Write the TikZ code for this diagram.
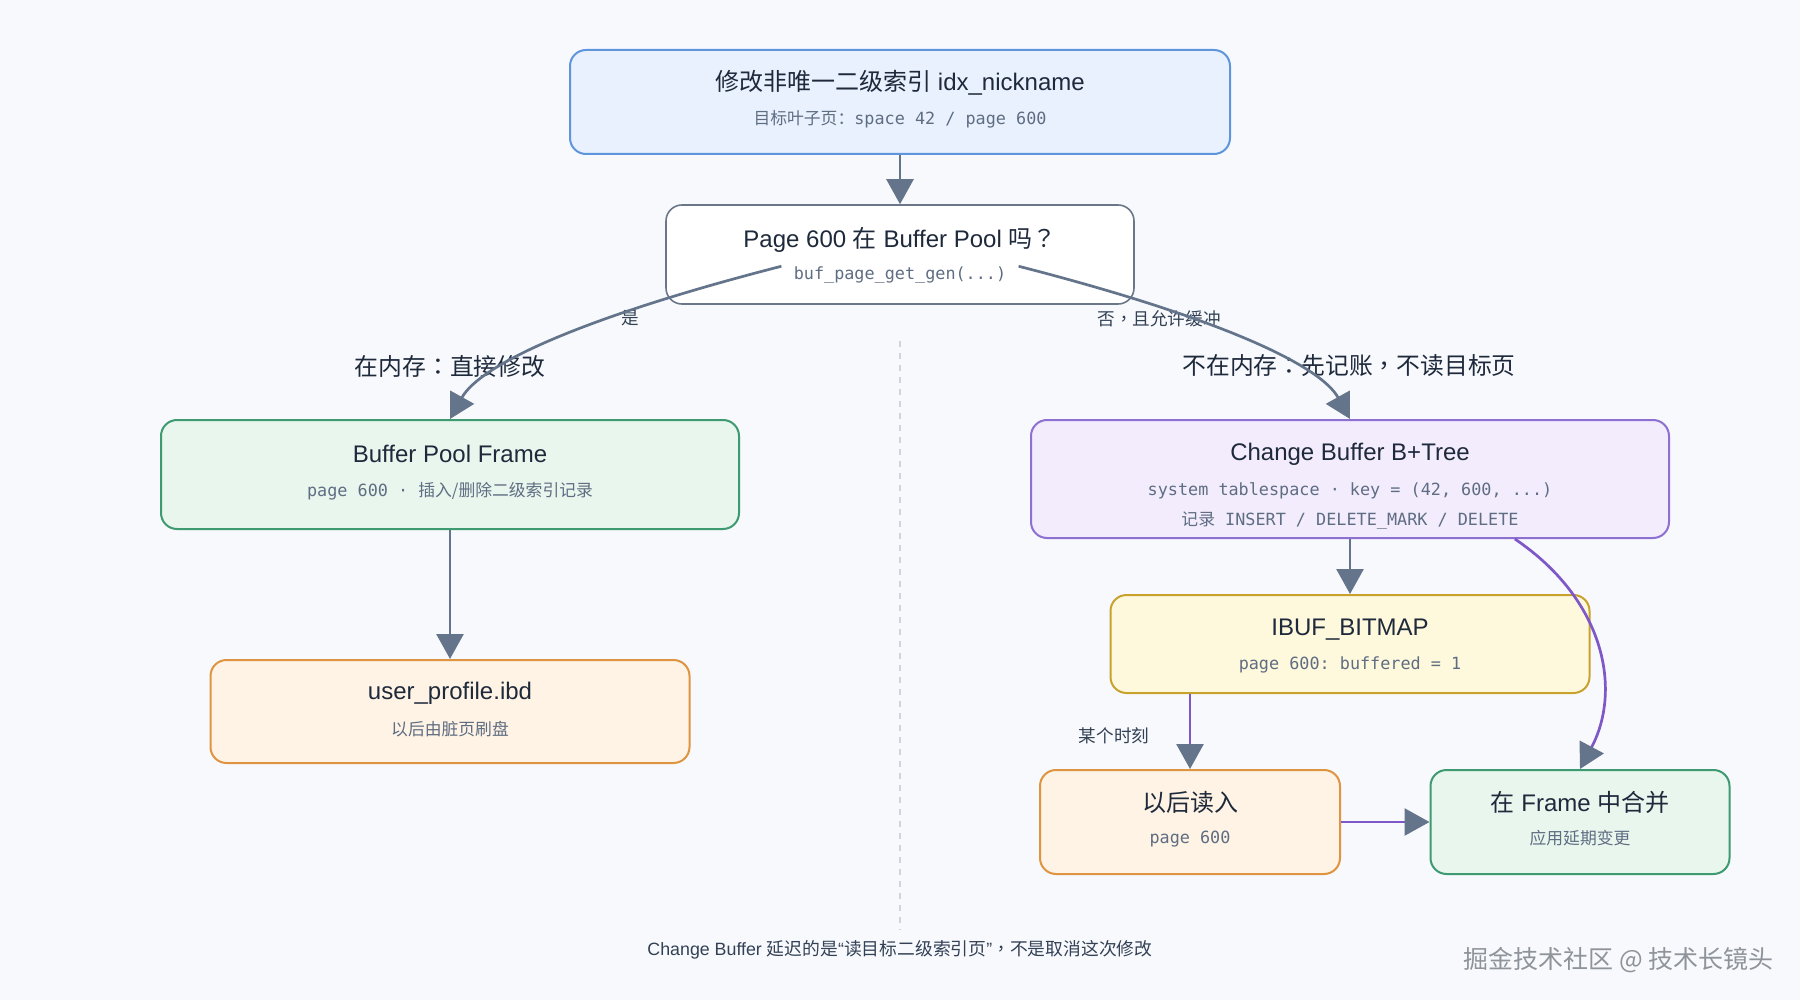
\documentclass[tikz,border=0pt]{standalone}
\usepackage{fontspec}
\setmainfont{Liberation Sans}
\setmonofont{DejaVu Sans Mono}
\newfontfamily\cjk{Noto Sans CJK SC}
\newfontfamily\cjkp{Noto Sans CJK TC}
\usetikzlibrary{arrows.meta,positioning,calc}

\definecolor{bgcol}{HTML}{F7F9FC}
\definecolor{arrowgray}{HTML}{64748B}
\definecolor{titlecol}{HTML}{1E293B}
\definecolor{subcol}{HTML}{5F6D82}
\definecolor{labelcol}{HTML}{334155}
\definecolor{bluefill}{HTML}{E8F1FD}
\definecolor{blueline}{HTML}{5E95DD}
\definecolor{decline}{HTML}{6B7789}
\definecolor{greenfill}{HTML}{E9F6EE}
\definecolor{greenline}{HTML}{3E9A70}
\definecolor{orangefill}{HTML}{FEF3E4}
\definecolor{orangeline}{HTML}{DE9440}
\definecolor{purplefill}{HTML}{F2ECFD}
\definecolor{purpleline}{HTML}{8E6FD2}
\definecolor{purplecol}{HTML}{7E57C9}
\definecolor{yellowfill}{HTML}{FEF8DC}
\definecolor{yellowline}{HTML}{C9A22E}
\definecolor{divcol}{HTML}{D0D5DD}
\definecolor{markcol}{HTML}{8F949B}

\tikzset{
  box/.style={draw, rounded corners=8pt, line width=1pt, inner sep=0pt},
  title/.style={text=titlecol, font=\fontsize{12}{14}\selectfont, inner sep=0pt},
  sub/.style={text=subcol, font=\fontsize{8.4}{10}\selectfont\ttfamily, inner sep=0pt},
  biglabel/.style={text=titlecol, font=\fontsize{11.9}{14}\selectfont\cjk, inner sep=0pt},
  smalllabel/.style={text=labelcol, font=\fontsize{8.8}{10}\selectfont\cjk, inner sep=0pt},
  flow/.style={arrowgray, line width=1.35pt, -{Triangle[length=12.5pt,width=13.5pt]}},
  purpleflow/.style={purplecol, line width=1.35pt, -{Triangle[length=12.5pt,width=13.5pt,color=arrowgray]}},
  divider/.style={divcol, line width=0.6pt, dash pattern=on 3pt off 3pt}
}

\begin{document}
\begin{tikzpicture}[x=0.5pt, y=-0.5pt]
  % Background
  \fill[bgcol] (0,0) rectangle (1800,1000);
  \useasboundingbox (0,0) rectangle (1800,1000);

  % Divider
  \draw[divider] (900,341) -- (900,930);

  % Top
  \node[box, draw=blueline, fill=bluefill, minimum width=330pt, minimum height=52pt] (top) at (900,102) {};
  \node[title] (toptitle) at (900,83) {{\cjk 修改非唯一二级索引} idx\_nickname};
  \node[sub] (topsub) at (900,119) {{\cjk 目标叶子页：}space 42 / page 600};

  % Decision
  \node[box, draw=decline, fill=white, line width=0.8pt, minimum width=234pt, minimum height=49.5pt] (dec) at (900,254.5) {};
  \node[title] (dectitle) at (900,240) {Page 600 {\cjk 在} Buffer Pool {\cjk 吗}{\cjkp ？}};
  \node[sub, inner xsep=6pt] (decsub) at (900,275) {buf\_page\_get\_gen(...)};

  % Left branch
  \node[box, draw=greenline, fill=greenfill, minimum width=289pt, minimum height=54.5pt] (bpf) at (450,474.5) {};
  \node[title] (bpftitle) at (450,454) {Buffer Pool Frame};
  \node[sub] (bpfsub) at (450,491) {page 600 · {\cjk 插入/删除二级索引记录}};

  \node[box, draw=orangeline, fill=orangefill, minimum width=239.5pt, minimum height=51.5pt] (ibd) at (450,711.5) {};
  \node[title] (ibdtitle) at (450,693) {user\_profile.ibd};
  \node[sub, font=\fontsize{8.4}{10}\selectfont\cjk] (ibdsub) at (450,729) {以后由脏页刷盘};

  % Right branch
  \node[box, draw=purpleline, fill=purplefill, minimum width=319pt, minimum height=59pt] (cb) at (1350,479) {};
  \node[title] (cbtitle) at (1350,454) {Change Buffer B+Tree};
  \node[sub] (cbsub) at (1350,491) {system tablespace · key = (42, 600, ...)};
  \node[sub] (cbsubb) at (1350,521) {{\cjk 记录} INSERT / DELETE\_MARK / DELETE};

  \node[box, draw=yellowline, fill=yellowfill, minimum width=239.5pt, minimum height=49pt] (ibuf) at (1350,644) {};
  \node[title] (ibuftitle) at (1350,630) {IBUF\_BITMAP};
  \node[sub] (ibufsub) at (1350,665) {page 600: buffered = 1};

  \node[box, draw=orangeline, fill=orangefill, minimum width=150pt, minimum height=52pt] (read) at (1190,822) {};
  \node[title, font=\fontsize{12}{14}\selectfont\cjk] (readtitle) at (1190,802) {以后读入};
  \node[sub] (readsub) at (1190,839) {page 600};

  \node[box, draw=greenline, fill=greenfill, minimum width=149.5pt, minimum height=52pt] (merge) at (1580,822) {};
  \node[title] (mergetitle) at (1580,802) {{\cjk 在} Frame {\cjk 中合并}};
  \node[sub, font=\fontsize{8.4}{10}\selectfont\cjk] (mergesub) at (1580,838) {应用延期变更};

  % Labels
  \node[smalllabel] (yes) at (630,318) {是};
  \node[smalllabel] (no) at (1159,319) {否{\cjkp ，}且允许缓冲};
  \node[biglabel] (inmem) at (450,366) {在内存{\cjkp ：}直接修改};
  \node[biglabel] (notmem) at (1349,366) {不在内存{\cjkp ：}先记账{\cjkp ，}不读目标页};
  \node[smalllabel] (later) at (1114,736) {某个时刻};

  % Connectors
  \draw[flow] (decsub.north west) .. controls (580,318) and (480,365) .. (bpf.north);
  \draw[flow] (decsub.north east) .. controls (1220,318) and (1320,365) .. (cb.north);
  \draw[flow] (top.south) -- (dec.north);
  \draw[flow] (bpf.south) -- (ibd.north);
  \draw[flow] (cb.south) -- (ibuf.north);
  \draw[purpleflow] (ibuf.south -| read.north) -- (read.north);
  \draw[purpleflow] (read.east) -- (merge.west);
  \draw[purpleflow] (cb.-20) .. controls (1605,600) and (1622,690) .. (merge.north);

  % Footer
  \node[text=labelcol, font=\fontsize{8.9}{10}\selectfont, inner sep=0pt] (note) at (900,950)
    {Change Buffer {\cjk 延迟的是}“{\cjk 读目标二级索引页}”{\cjkp ，}{\cjk 不是取消这次修改}};
  \node[text=markcol, font=\fontsize{12.5}{14}\selectfont\cjk, inner sep=0pt, anchor=east] (mark) at (1774,960)
    {掘金技术社区 @ 技术长镜头};
\end{tikzpicture}
\end{document}
